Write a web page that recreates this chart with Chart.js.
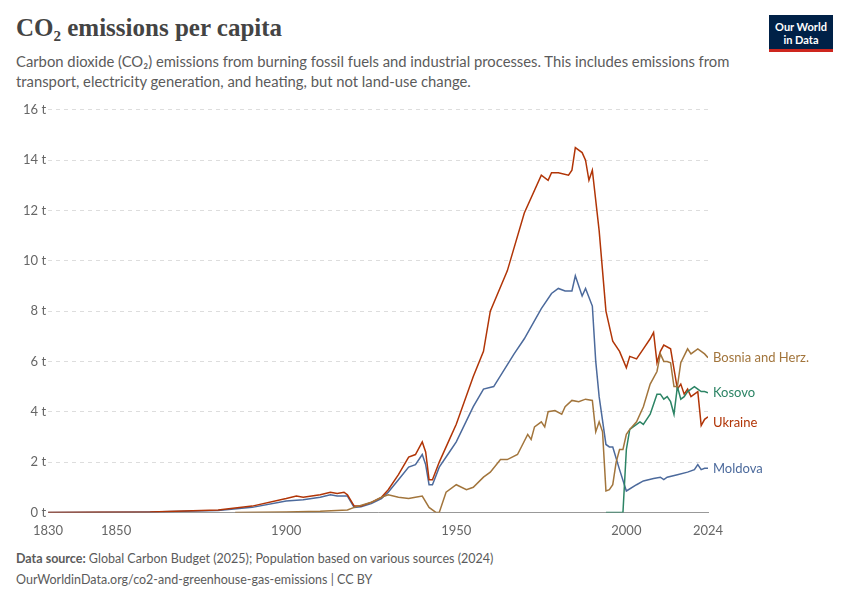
<!DOCTYPE html>
<html>
<head>
<meta charset="utf-8">
<script src="https://cdn.jsdelivr.net/npm/chart.js@4"></script>
<style>
  body { margin: 0; background: #fff; font-family: Lato, sans-serif; }
  #wrap { position: relative; width: 850px; height: 600px; }
  h1 { position: absolute; left: 16px; top: 14px; margin: 0; font: 700 25px "Liberation Serif", serif; color: #444; }
  .sub { position: absolute; left: 16px; top: 51px; width: 760px; font-size: 14.8px; line-height: 20px; color: #5b5b5b; }
  .logo { position: absolute; left: 769px; top: 15px; width: 64px; height: 37px; background: #002147; color: #fff; font-size: 11px; font-weight: 700; text-align: center; line-height: 13px; padding-top: 5px; box-sizing: border-box; border-bottom: 3px solid #ce261e; }
  .foot { position: absolute; left: 16px; font-size: 12.5px; color: #5b5b5b; }
  #box { position: absolute; left: 0; top: 100px; width: 850px; height: 442px; }
</style>
</head>
<body>
<div id="wrap">
  <h1>CO₂ emissions per capita</h1>
  <div class="sub">Carbon dioxide (CO₂) emissions from burning fossil fuels and industrial processes. This includes emissions from transport, electricity generation, and heating, but not land-use change.</div>
  <div class="logo">Our World<br>in Data</div>
  <div id="box"><canvas id="c"></canvas></div>
  <div class="foot" style="top:551px"><b>Data source:</b> Global Carbon Budget (2025); Population based on various sources (2024)</div>
  <div class="foot" style="top:572px">OurWorldinData.org/co2-and-greenhouse-gas-emissions | CC BY</div>
</div>
<script>
const tickYears = [1830, 1850, 1900, 1950, 2000, 2024];

const ukraineYears = [1830, 1860, 1880, 1890, 1900, 1903, 1905, 1910, 1913, 1915, 1917, 1918, 1920, 1922, 1925, 1928, 1930, 1933, 1936, 1938, 1940, 1941, 1942, 1943, 1945, 1948, 1950, 1955, 1958, 1960, 1965, 1970, 1975, 1977, 1978, 1980, 1983, 1984, 1985, 1987, 1988, 1989, 1990, 1992, 1994, 1996, 1998, 2000, 2001, 2003, 2005, 2007, 2008, 2009, 2010, 2011, 2013, 2014, 2015, 2016, 2017, 2018, 2019, 2020, 2021, 2022, 2023, 2024];
const ukraine = [0, 0.02, 0.1, 0.25, 0.55, 0.65, 0.6, 0.7, 0.8, 0.75, 0.8, 0.7, 0.25, 0.25, 0.4, 0.6, 0.9, 1.5, 2.2, 2.3, 2.8, 2.4, 1.3, 1.3, 2.0, 2.9, 3.5, 5.4, 6.4, 8.0, 9.6, 11.9, 13.4, 13.2, 13.5, 13.5, 13.4, 13.6, 14.5, 14.3, 14.0, 13.2, 13.6, 11.2, 8.0, 6.8, 6.4, 5.75, 6.2, 6.1, 6.5, 6.9, 7.15, 5.95, 6.4, 6.65, 6.5, 5.7, 4.9, 5.1, 4.7, 4.9, 4.6, 4.7, 4.8, 3.45, 3.7, 3.8];

const moldovaYears = [1830, 1860, 1880, 1890, 1900, 1905, 1910, 1913, 1915, 1918, 1920, 1922, 1925, 1928, 1930, 1933, 1936, 1938, 1940, 1941, 1942, 1943, 1945, 1948, 1950, 1955, 1958, 1961, 1967, 1970, 1975, 1978, 1980, 1982, 1984, 1985, 1987, 1988, 1990, 1991, 1992, 1994, 1995, 1996, 1998, 2000, 2003, 2005, 2008, 2010, 2011, 2012, 2015, 2018, 2020, 2021, 2022, 2023, 2024];
const moldova = [0, 0.02, 0.08, 0.2, 0.45, 0.5, 0.6, 0.7, 0.65, 0.65, 0.2, 0.22, 0.35, 0.55, 0.8, 1.3, 1.8, 1.9, 2.3, 1.9, 1.1, 1.1, 1.8, 2.4, 2.8, 4.2, 4.9, 5.0, 6.3, 6.9, 8.1, 8.7, 8.9, 8.8, 8.8, 9.4, 8.6, 8.9, 8.2, 6.0, 4.6, 2.7, 2.6, 2.6, 1.7, 0.85, 1.1, 1.25, 1.35, 1.4, 1.3, 1.4, 1.5, 1.6, 1.7, 1.9, 1.7, 1.75, 1.75];

const bosniaYears = [1885, 1900, 1910, 1918, 1920, 1925, 1928, 1930, 1933, 1936, 1938, 1940, 1942, 1944, 1945, 1947, 1950, 1953, 1955, 1958, 1960, 1963, 1965, 1968, 1971, 1972, 1973, 1975, 1976, 1977, 1979, 1981, 1982, 1984, 1986, 1988, 1990, 1991, 1992, 1993, 1994, 1995, 1996, 1997, 1998, 1999, 2000, 2001, 2003, 2005, 2007, 2009, 2010, 2011, 2012, 2013, 2014, 2015, 2016, 2018, 2019, 2021, 2022, 2023, 2024];
const bosnia = [0, 0.02, 0.05, 0.1, 0.2, 0.4, 0.6, 0.7, 0.6, 0.55, 0.6, 0.65, 0.2, 0, 0, 0.8, 1.1, 0.9, 1.0, 1.4, 1.6, 2.1, 2.1, 2.3, 3.1, 2.9, 3.4, 3.6, 3.4, 4.0, 4.05, 3.9, 4.2, 4.45, 4.4, 4.5, 4.45, 3.2, 3.6, 3.2, 0.85, 0.9, 1.1, 2.0, 2.5, 2.5, 3.1, 3.3, 3.6, 4.2, 5.1, 5.6, 6.3, 6.0, 6.0, 5.95, 5.0, 5.0, 5.95, 6.5, 6.3, 6.5, 6.4, 6.3, 6.15];

const kosovoYears = [1994, 1999, 2000, 2001, 2003, 2004, 2005, 2007, 2008, 2009, 2010, 2011, 2012, 2013, 2014, 2015, 2016, 2017, 2018, 2019, 2020, 2021, 2022, 2023, 2024];
const kosovo = [0, 0, 2.5, 3.3, 3.5, 3.6, 3.5, 3.9, 4.3, 4.7, 4.7, 4.5, 4.6, 4.4, 3.9, 5.0, 4.5, 4.6, 4.8, 4.9, 5.0, 4.9, 4.8, 4.8, 4.75];

const pts = (xs, ys) => xs.map((x, i) => ({ x: x, y: ys[i] }));

const series = [
  { label: "Bosnia and Herz.", years: bosniaYears, values: bosnia, color: "#a2753c" },
  { label: "Kosovo", years: kosovoYears, values: kosovo, color: "#2c8465" },
  { label: "Ukraine", years: ukraineYears, values: ukraine, color: "#b13507" },
  { label: "Moldova", years: moldovaYears, values: moldova, color: "#4c6a9c" },
];

// labels at the right end of each line
const endLabels = {
  id: "endLabels",
  afterDatasetsDraw(chart) {
    const ctx = chart.ctx;
    ctx.save();
    ctx.font = "13px Lato";
    ctx.textBaseline = "middle";
    chart.data.datasets.forEach((ds, i) => {
      const meta = chart.getDatasetMeta(i);
      const last = meta.data[meta.data.length - 1];
      let y = last.y;
      if (ds.label === "Ukraine") y += 6;
      ctx.fillStyle = ds.borderColor;
      ctx.fillText(ds.label, last.x + 5, y);
    });
    ctx.restore();
  }
};

new Chart(document.getElementById("c"), {
  type: "line",
  data: {
    datasets: series.map(s => ({
      label: s.label,
      data: pts(s.years, s.values),
      borderColor: s.color,
      borderWidth: 1.5,
      pointRadius: 0,
      tension: 0,
    })),
  },
  options: {
    responsive: true,
    maintainAspectRatio: false,
    animation: false,
    layout: { padding: { left: 21, right: 142, top: 8 } },
    plugins: { legend: { display: false }, tooltip: { enabled: false } },
    scales: {
      x: {
        type: "linear",
        min: 1830,
        max: 2024,
        afterBuildTicks: axis => { axis.ticks = tickYears.map(v => ({ value: v })); },
        ticks: { color: "#666", font: { family: "Lato", size: 13 }, callback: v => String(v), maxRotation: 0 },
        grid: { display: false },
        border: { color: "#999" },
      },
      y: {
        min: 0,
        max: 16,
        ticks: { stepSize: 2, color: "#666", font: { family: "Lato", size: 13 }, callback: v => v + " t", padding: 2 },
        grid: { color: "#ddd", drawTicks: false },
        border: { display: false, dash: [4, 4] },
      },
    },
  },
  plugins: [endLabels],
});
</script>
</body>
</html>
